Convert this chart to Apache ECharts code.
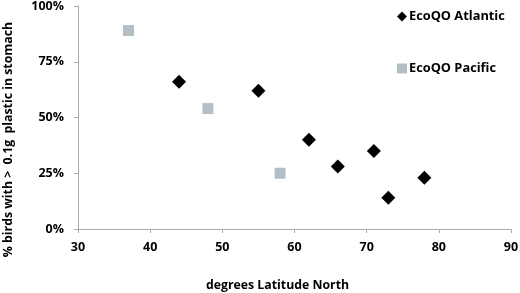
<!DOCTYPE html>
<html><head><meta charset="utf-8">
<script src="https://cdn.jsdelivr.net/npm/echarts@6/dist/echarts.min.js"></script>
<style>html,body{margin:0;padding:0;background:#fff}#c{width:520px;height:293px}</style>
</head><body><div id="c"></div>
<script>
const atlanticLat = [44, 55, 62, 66, 71, 73, 78];
const atlanticPct = [66, 62, 40, 28, 35, 14, 23];
const pacificLat = [37, 48, 58];
const pacificPct = [89, 54, 25];
const xTicks = [30, 40, 50, 60, 70, 80, 90];
const yTicks = [0, 25, 50, 75, 100];
const seriesNames = ['EcoQO Atlantic', 'EcoQO Pacific'];

const font = 'Open Sans, Liberation Sans, sans-serif';
const axisColor = '#a3acb0';
const chart = echarts.init(document.getElementById('c'));
chart.setOption({
  animation: false,
  grid: {left: 78, right: 9, top: 6, bottom: 64, outerBoundsMode: 'none', containLabel: false},
  legend: {
    orient: 'vertical', left: 397, top: 10, itemGap: 39, padding: 0,
    itemWidth: 10, itemHeight: 10,
    textStyle: {fontFamily: font, fontWeight: 'bold', fontSize: 12.8, color: '#000', padding: [0,0,0,-3]},
    data: [{name: seriesNames[0], icon: 'diamond'}, {name: seriesNames[1], icon: 'path://M1,1L9,1L9,9L1,9Z'}]
  },
  xAxis: {
    type: 'value', min: xTicks[0], max: xTicks[xTicks.length-1], interval: 10,
    name: 'degrees Latitude North', nameLocation: 'middle', nameGap: 50,
    nameTextStyle: {fontFamily: font, fontWeight: 'bold', fontSize: 12.3, color: '#000', padding: [0, 34, 0, 0]},
    axisLine: {show: true, lineStyle: {color: axisColor}},
    axisTick: {show: true, length: 4, lineStyle: {color: axisColor}},
    splitLine: {show: false},
    axisLabel: {fontFamily: font, fontWeight: 'bold', fontSize: 12.5, color: '#000', margin: 12}
  },
  yAxis: {
    type: 'value', min: 0, max: 100, interval: 25,
    name: '% birds with >  0.1g  plastic in stomach', nameLocation: 'middle', nameGap: 64, nameRotate: 90,
    nameTextStyle: {fontFamily: font, fontWeight: 'bold', fontSize: 12.3, color: '#000', padding: [0, 44, 0, 0]},
    axisLine: {show: true, lineStyle: {color: axisColor}},
    axisTick: {show: true, length: 4, lineStyle: {color: axisColor}},
    splitLine: {show: false},
    axisLabel: {fontFamily: font, fontWeight: 'bold', fontSize: 12.5, color: '#000', margin: 14,
      formatter: v => yTicks.includes(v) ? v + '%' : ''}
  },
  series: [
    {name: seriesNames[0], type: 'scatter', symbol: 'diamond', symbolSize: 14,
     itemStyle: {color: '#000', opacity: 1}, data: atlanticLat.map((x, i) => [x, atlanticPct[i]])},
    {name: seriesNames[1], type: 'scatter', symbol: 'rect', symbolSize: 11,
     itemStyle: {color: '#b3bfc4', opacity: 1}, data: pacificLat.map((x, i) => [x, pacificPct[i]])}
  ]
});
</script></body></html>
